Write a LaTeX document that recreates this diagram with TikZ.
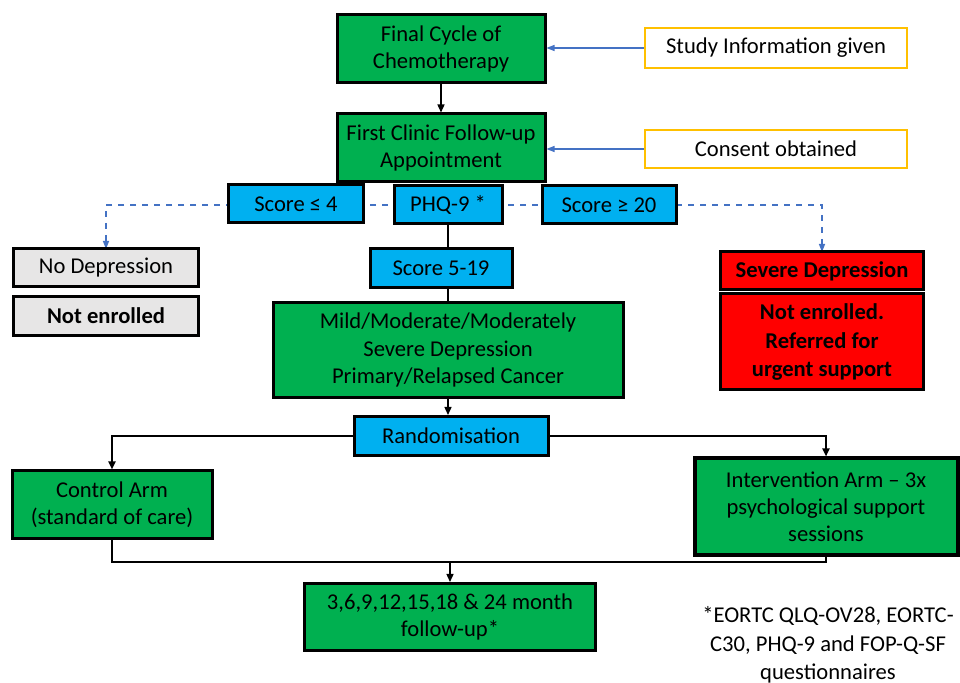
\documentclass[tikz,border=0pt]{standalone}
\usepackage{fontspec}
\setmainfont{Carlito}
\usetikzlibrary{positioning, arrows.meta, calc}
\definecolor{armgreen}{HTML}{00B050}
\definecolor{scoreblue}{HTML}{00B0F0}
\definecolor{alertred}{HTML}{FF0000}
\definecolor{offgrey}{HTML}{E7E6E6}
\definecolor{infoorange}{HTML}{FFC000}
\definecolor{linkblue}{HTML}{4472C4}

\begin{document}
\begin{tikzpicture}[
  x=0.5pt, y=-0.5pt,
  font=\fontsize{11.3}{13.6}\selectfont,
  basebox/.style={
    draw=black,
    line width=1.5pt,
    rectangle,
    align=center,
    inner sep=2pt,
    text=black
  },
  greenbox/.style={basebox, fill=armgreen},
  bluebox/.style={basebox, fill=scoreblue},
  greybox/.style={basebox, fill=offgrey},
  redbox/.style={basebox, fill=alertred, font=\fontsize{11.3}{14.2}\selectfont\bfseries},
  infobox/.style={basebox, draw=infoorange, line width=1.2pt, fill=white},
  flow/.style={-{Triangle[length=4pt,width=3.5pt]}, line width=0.7pt, black},
  armflow/.style={-{Triangle[length=4pt,width=3.5pt]}, line width=1.1pt, black},
  infoflow/.style={-{Triangle[length=4pt,width=3pt]}, line width=0.6pt, linkblue},
  scoreflow/.style={-{Triangle[length=4pt,width=3pt]}, line width=0.7pt, linkblue, dashed}
]
  \useasboundingbox (0,0) rectangle (960,683);

  % --- Main column ---
  \node[greenbox, minimum width=104pt, minimum height=34pt] (fc) at (441,49) {Final Cycle of\\Chemotherapy};
  \node[greenbox, minimum width=104pt, minimum height=34pt] (fu) at (441,148) {First Clinic Follow-up\\Appointment};

  % --- Side notes ---
  \node[infobox, minimum width=131pt, minimum height=20pt] (info) at (776,48) {Study Information given};
  \node[infobox, minimum width=131pt, minimum height=19pt] (cons) at (776,149) {Consent obtained};

  % --- Dashed score branches (behind the score boxes) ---
  \coordinate (phqc) at (448,205);
  \draw[scoreflow] (phqc) -| (106,249);
  \draw[scoreflow] (phqc) -| (822,252);

  % --- Scores ---
  \node[bluebox, minimum width=54pt, minimum height=19pt] (phq) at (phqc) {PHQ-9 *};
  \node[bluebox, minimum width=67.5pt, minimum height=19pt] (slo) at (296,204) {Score ≤ 4};
  \node[bluebox, minimum width=67pt, minimum height=19pt] (shi) at (609,205) {Score ≥ 20};
  \node[bluebox, minimum width=71pt, minimum height=19.5pt] (smid) at (441,268) {Score 5-19};

  % --- Outcomes of screening ---
  \node[greybox, minimum width=92.5pt, minimum height=19pt] (nodep) at (106,268) {No Depression};
  \node[greybox, minimum width=92.5pt, minimum height=19.5pt, font=\fontsize{11.3}{13.6}\selectfont\bfseries] (notenr) at (106,316) {Not enrolled};
  \node[redbox, minimum width=101.5pt, minimum height=19pt] (sev) at (822,271) {Severe Depression};
  \node[redbox, minimum width=101.5pt, minimum height=48pt] (refer) at (822,342) {Not enrolled.\\Referred for\\urgent support};

  \node[greenbox, minimum width=175pt, minimum height=47.5pt] (mild) at (448,350) {Mild/Moderate/Moderately\\Severe Depression\\Primary/Relapsed Cancer};
  \node[bluebox, minimum width=97pt, minimum height=19.5pt] (rand) at (451,436) {Randomisation};

  % --- Arms ---
  \node[greenbox, minimum width=100pt, minimum height=34pt] (ctrl) at (112,505) {Control Arm\\(standard of care)};
  \node[greenbox, line width=2pt, minimum width=131.5pt, minimum height=48.5pt] (intv) at (826,507) {Intervention Arm -- 3x\\psychological support\\sessions};
  \node[greenbox, minimum width=145.5pt, minimum height=33.5pt] (fol) at (450,617) {3,6,9,12,15,18 \& 24 month\\follow-up*};

  \node[align=center, font=\fontsize{11.3}{14.3}\selectfont] (note) at (828,645) {*EORTC QLQ-OV28, EORTC-\\C30, PHQ-9 and FOP-Q-SF\\questionnaires};

  % --- Connectors ---
  \draw[flow] (fc) -- (fu);
  \draw[infoflow] (info.west) -- (info.west -| fc.east);
  \draw[infoflow] (cons.west) -- (cons.west -| fu.east);
  \draw[line width=0.9pt] (phq.south) -- (phq.south |- smid.north);
  \draw[line width=0.9pt] (phq.south |- smid.south) -- (phq.south |- mild.north);
  \draw[flow] (mild.south) -- (mild.south |- rand.north);
  \draw[armflow] (rand.west) -| (ctrl.north);
  \draw[armflow] (rand.east) -| (intv.north);

  \coordinate (merge) at (450,562);
  \draw[line width=1.3pt] (ctrl.south) |- (merge);
  \draw[line width=1pt] (intv.south) |- (merge);
  \draw[flow] (merge) -- (fol.north);

\end{tikzpicture}
\end{document}
